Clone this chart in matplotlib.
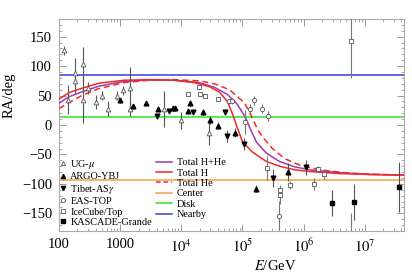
import numpy as np
import matplotlib
matplotlib.use("Agg")
import matplotlib.pyplot as plt
from matplotlib.ticker import FixedLocator, FixedFormatter, MultipleLocator
from matplotlib.lines import Line2D

# ---------------- data ----------------
ug_E = [121, 181, 181, 142, 250, 250, 302, 408, 512, 643, 903, 1120, 1475, 1475, 5260, 9880, 28400]
ug_ra = [127, 89, 75, 43, 103, 42, 63, 39, 50, 28, 50, 59, 62, 28, 27, 8, -14]
ug_err = [8, 25, 20, 25, 30, 38, 10, 12, 8, 12, 8, 8, 36, 12, 30, 14, 20]

argo_E = [988, 1650, 2640, 4200, 7400, 7980, 12700, 14000, 22900, 29800, 40400, 75400, 168000, 553000]
argo_ra = [42, 32, 37, 28, 29, 29, 24, 37, 22, 8, -1, -13, -108, -80]
argo_err = [4, 4, 4, 4, 4, 4, 4, 5, 5, 7, 6, 8, 6, 15]

tibet_E = [4080, 6190, 15300, 52000, 55300, 105000, 314000, 1080000]
tibet_ra = [15, 24, 22, 22, -19, -32, -90, -72]
tibet_err = [4, 4, 4, 5, 10, 10, 15, 13]

eas_E = [61200, 68600, 112000, 135000, 157000, 210000, 260000, 394000]
eas_ra = [40, 41, 5, 27, 42, 28, 15, -154]
eas_err = [5, 5, 20, 8, 8, 7, 8, 25]

ice_E = [12700, 19700, 20300, 24500, 39400, 254000, 420000, 420000, 612000, 1475000, 1715000, 2150000, 5890000, 5890000]
ice_ra = [52, 65, 52, 50, 45, -73, -110, -119, -102, -100, -74, -84, 143, -210]
ice_err = [3, 3, 3, 3, 3, 20, 8, 15, 7, 10, 5, 7, 63, 60]

kas_E = [2910000, 6680000, 36100000]
kas_ra = [-133, -131, -105]
kas_err = [22, 30, 42]

# model curves (log10 E, RA)
h_logE = [2.0, 2.164, 2.393, 2.656, 3.066, 3.475, 3.885, 4.213, 4.459, 4.623, 4.754, 4.852,
          4.918, 5.0, 5.164, 5.393, 5.607, 5.852, 6.098, 6.59, 7.082, 7.639]
h_ra = [44, 55, 63, 71, 76, 77, 76, 72, 65, 56, 40, 15, -5, -28, -46, -62, -70, -76, -79, -82.5, -84, -85]

hhe_logE = [2.0, 2.164, 2.393, 2.656, 3.066, 3.475, 3.885, 4.295, 4.541, 4.754, 4.918, 5.049,
            5.131, 5.230, 5.393, 5.607, 5.852, 6.098, 6.59, 7.082, 7.639]
hhe_ra = [37, 48, 57, 66, 74, 76.5, 76, 72, 64, 52, 35, 13, -7, -29, -48, -62, -71, -76, -81, -84, -85]

he_logE = [2.0, 2.164, 2.393, 2.656, 3.066, 3.475, 3.885, 4.295, 4.541, 4.787, 5.033, 5.148,
           5.246, 5.328, 5.492, 5.689, 5.934, 6.262, 6.672, 7.082, 7.639]
he_ra = [28, 38, 51, 62, 72, 76, 77, 75, 70, 60, 38, 15, -7, -20, -40, -57, -68, -76, -81, -83.5, -85]

center_ra = -93
disk_ra = 13
nearby_ra = 85

xticks = [100, 1000, 1e4, 1e5, 1e6, 1e7]
xticklabels = ["100", "1000", r"$10^4$", r"$10^5$", r"$10^6$", r"$10^7$"]
yticks = [-150, -100, -50, 0, 50, 100, 150]

# ---------------- style ----------------
plt.rcParams["font.family"] = ["Liberation Serif", "DejaVu Serif"]
plt.rcParams["mathtext.fontset"] = "stix"
plt.rcParams["axes.unicode_minus"] = True

fig = plt.figure(figsize=(4.12, 2.76), dpi=100)
ax = fig.add_axes([59 / 412, 1 - 231 / 276, 345 / 412, 212 / 276])

c_blue = "#3c3cd8"
c_green = "#30e030"
c_orange = "#f3a04c"
c_red = "#f02a2a"
c_purple = "#9c3cb0"

ax.axhline(nearby_ra, color=c_blue, lw=1.1, zorder=1)
ax.axhline(disk_ra, color=c_green, lw=1.1, zorder=1)
ax.axhline(center_ra, color=c_orange, lw=1.1, zorder=1)

ax.plot(10 ** np.array(hhe_logE), hhe_ra, color=c_purple, lw=1.1, zorder=3)
ax.plot(10 ** np.array(h_logE), h_ra, color=c_red, lw=1.1, zorder=3)
ax.plot(10 ** np.array(he_logE), he_ra, color=c_red, lw=1.1, ls=(0, (4, 2.5)), zorder=3)

ekw = dict(ls="none", capsize=0, elinewidth=0.8, zorder=4)
ms = 3.4
ax.errorbar(ug_E, ug_ra, yerr=ug_err, marker="^", ms=ms, mfc="white", mec="#555555",
            mew=0.6, ecolor="#555555", **ekw)
ax.errorbar(argo_E, argo_ra, yerr=argo_err, marker="^", ms=ms, mfc="black", mec="black",
            ecolor="#555555", **ekw)
ax.errorbar(tibet_E, tibet_ra, yerr=tibet_err, marker="v", ms=ms, mfc="black", mec="black",
            ecolor="#555555", **ekw)
ax.errorbar(eas_E, eas_ra, yerr=eas_err, marker="o", ms=3.1, mfc="white", mec="#555555",
            mew=0.6, ecolor="#777777", **ekw)
ax.errorbar(ice_E, ice_ra, yerr=ice_err, marker="s", ms=3.1, mfc="white", mec="#555555",
            mew=0.6, ecolor="#777777", **ekw)
ax.errorbar(kas_E, kas_ra, yerr=kas_err, marker="s", ms=3.3, mfc="black", mec="black",
            ecolor="#555555", **ekw)

ax.set_xscale("log")
ax.set_xlim(100, 4.4e7)
ax.set_ylim(-180, 180)
ax.xaxis.set_major_locator(FixedLocator(xticks))
ax.xaxis.set_major_formatter(FixedFormatter(xticklabels))
ax.set_yticks(yticks)
ax.yaxis.set_minor_locator(MultipleLocator(10))

for s in ax.spines.values():
    s.set_color("#aaaaaa")
    s.set_linewidth(0.8)
ax.tick_params(which="both", direction="in", top=True, right=True, color="#999999",
               labelsize=10.5, labelcolor="black")
ax.tick_params(which="major", length=5, width=0.7, pad=5)
ax.tick_params(which="minor", length=2.5, width=0.6)

ax.set_xlabel(r"$E$/GeV", fontsize=10.5)
ax.xaxis.set_label_coords(0.626, -0.13)
ax.set_ylabel("RA/deg", fontsize=10.5)
ax.yaxis.set_label_coords(-0.125, 0.64)

# legends
lms = 3.0
mk_handles = [
    Line2D([], [], ls="none", marker="^", ms=lms, mfc="white", mec="#555555", mew=0.6),
    Line2D([], [], ls="none", marker="^", ms=lms, mfc="black", mec="black"),
    Line2D([], [], ls="none", marker="v", ms=lms, mfc="black", mec="black"),
    Line2D([], [], ls="none", marker="o", ms=lms, mfc="white", mec="#555555", mew=0.6),
    Line2D([], [], ls="none", marker="s", ms=lms, mfc="white", mec="#555555", mew=0.6),
    Line2D([], [], ls="none", marker="s", ms=lms, mfc="black", mec="black"),
]
mk_labels = [r"UG-$\mu$", "ARGO-YBJ", r"Tibet-AS$\gamma$", "EAS-TOP", "IceCube/Top", "KASCADE-Grande"]
leg1 = ax.legend(mk_handles, mk_labels, loc="upper left", bbox_to_anchor=(59 / 412, 1 - 158 / 276),
                 bbox_transform=fig.transFigure, frameon=False, fontsize=7.4, handlelength=0.7,
                 handletextpad=0.4, labelspacing=0.12, borderpad=0, borderaxespad=0)
ax.add_artist(leg1)

ln_handles = [
    Line2D([], [], color=c_purple, lw=1.1),
    Line2D([], [], color=c_red, lw=1.1),
    Line2D([], [], color=c_red, lw=1.1, ls=(0, (3, 2))),
    Line2D([], [], color=c_orange, lw=1.1),
    Line2D([], [], color=c_green, lw=1.1),
    Line2D([], [], color=c_blue, lw=1.1),
]
ln_labels = ["Total H+He", "Total H", "Total He", "Center", "Disk", "Nearby"]
ax.legend(ln_handles, ln_labels, loc="upper left", bbox_to_anchor=(156 / 412, 1 - 158 / 276),
          bbox_transform=fig.transFigure, frameon=False, fontsize=7.4, handlelength=1.6,
          handletextpad=0.4, labelspacing=0.12, borderpad=0, borderaxespad=0)

fig.savefig("out.png", dpi=100)
